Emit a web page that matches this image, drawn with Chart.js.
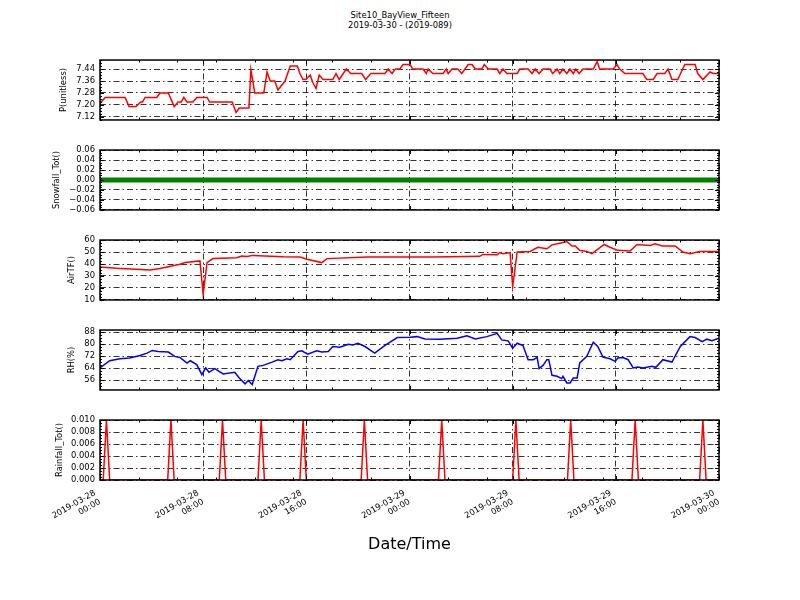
<!DOCTYPE html>
<html>
<head>
<meta charset="utf-8">
<script src="https://cdn.jsdelivr.net/npm/chart.js@4"></script>
<style>
body { margin: 0; background: #fff; }
#wrap { position: relative; width: 800px; height: 600px; font-family: 'DejaVu Sans', sans-serif; }
.title { position: absolute; left: 0; width: 800px; text-align: center; font-size: 8.4px; line-height: 10px; color: #000; }
canvas { position: absolute; left: 0; }
</style>
</head>
<body>
<div id="wrap">
  <div class="title" style="top:10px">Site10_BayView_Fifteen</div>
  <div class="title" style="top:20px">2019-03-30 - (2019-089)</div>
  <canvas id="cP" width="800" height="80" style="top:50px"></canvas>
  <canvas id="cS" width="800" height="80" style="top:140px"></canvas>
  <canvas id="cT" width="800" height="80" style="top:230px"></canvas>
  <canvas id="cH" width="800" height="80" style="top:320px"></canvas>
  <canvas id="cR" width="800" height="190" style="top:410px"></canvas>
</div>
<script>
// hours since 2019-03-28 00:00
const xTicks = [0, 8, 16, 24, 32, 40, 48];

const pTimes = [0, 0.4, 1.95, 2.25, 2.8, 3.15, 3.3, 3.5, 4.4, 4.65, 5.3, 5.75, 6.05, 6.3, 6.5, 6.75, 7.2, 7.5, 8.3, 8.5,
  10.25, 10.55, 10.8, 11.55, 11.7, 12.0, 12.7, 12.95, 13.2, 13.55, 13.8, 14.35, 14.75, 15.3, 15.5, 15.75, 15.95, 16.3, 16.5, 16.75,
  17.0, 17.3, 18.05, 18.3, 18.55, 19.1, 19.45, 20.3, 20.6, 21.0, 22.1, 22.35, 22.65, 22.9, 23.25, 23.5, 24.05, 24.25, 25.05, 25.3,
  25.45, 25.8, 26.6, 26.85, 27.0, 27.3, 27.75, 28.05, 28.55, 28.85, 29.1, 29.6, 29.8, 30.1, 30.8, 31.0, 31.25, 31.55, 32.35, 32.55,
  33.2, 33.5, 33.75, 34.05, 34.35, 34.9, 35.1, 35.45, 35.65, 35.9, 36.2, 36.45, 36.7, 36.9, 37.15, 37.45, 38.25, 38.55, 38.75, 39.8,
  40.1, 40.3, 40.7, 42.1, 42.4, 42.9, 43.2, 43.8, 44.05, 44.35, 44.8, 45.35, 46.15, 46.35, 46.75, 47.3, 47.55, 48.0];
const pVals = [7.21, 7.25, 7.25, 7.19, 7.19, 7.22, 7.22, 7.25, 7.25, 7.28, 7.28, 7.19, 7.22, 7.22, 7.25, 7.22, 7.22, 7.25, 7.25, 7.22,
  7.22, 7.15, 7.18, 7.18, 7.435, 7.28, 7.28, 7.42, 7.36, 7.36, 7.30, 7.36, 7.46, 7.46, 7.41, 7.37, 7.37, 7.40, 7.35, 7.31,
  7.40, 7.37, 7.37, 7.41, 7.37, 7.44, 7.41, 7.41, 7.37, 7.41, 7.41, 7.44, 7.41, 7.44, 7.44, 7.47, 7.47, 7.44, 7.44, 7.41,
  7.44, 7.41, 7.41, 7.44, 7.41, 7.44, 7.44, 7.41, 7.47, 7.47, 7.44, 7.44, 7.47, 7.44, 7.44, 7.41, 7.44, 7.41, 7.41, 7.44,
  7.44, 7.41, 7.44, 7.41, 7.44, 7.44, 7.41, 7.44, 7.41, 7.44, 7.41, 7.44, 7.41, 7.44, 7.41, 7.44, 7.44, 7.49, 7.44, 7.44,
  7.47, 7.44, 7.41, 7.41, 7.37, 7.37, 7.41, 7.41, 7.44, 7.37, 7.37, 7.47, 7.47, 7.41, 7.37, 7.42, 7.41, 7.41];

const sTimes = [0, 12, 24, 36, 48];
const sVals = [0, 0, 0, 0, 0];

const tTimes = [0, 1.3, 3.9, 4.65, 6.2, 6.6, 7.75, 8.0, 8.3, 8.75, 10.6, 11.0, 11.4, 11.85, 14.2, 15.5, 16.05, 17.2, 17.6, 20.7,
  25.8, 29.45, 29.7, 30.8, 31.0, 31.25, 31.8, 32.0, 32.35, 33.35, 33.95, 34.65, 35.05, 35.65, 36.2, 36.6, 36.85, 37.2, 37.75, 38.15,
  39.1, 39.55, 40.15, 41.1, 41.65, 42.65, 43.05, 43.6, 44.6, 45.2, 45.75, 46.5, 48.0];
const tVals = [37.6, 36.5, 35.1, 36.2, 39.8, 41.2, 42.6, 15.0, 41.2, 44.5, 45.3, 46.7, 46.2, 47.2, 46.0, 45.9, 44.0, 41.2, 44.5, 45.9,
  45.9, 46.4, 48.0, 47.8, 49.5, 48.6, 49.5, 21.2, 50.0, 50.5, 54.0, 52.7, 56.0, 57.4, 58.8, 55.0, 55.0, 51.4, 50.5, 48.6,
  56.3, 54.0, 51.4, 50.8, 56.3, 55.5, 56.8, 55.0, 55.0, 50.0, 48.6, 50.5, 50.5];

const hTimes = [0, 0.75, 1.55, 2.3, 3.1, 3.65, 4.05, 4.5, 5.3, 5.8, 6.2, 6.75, 7.0, 7.5, 7.9, 8.2, 8.45, 8.9, 9.55, 10.45,
  10.8, 11.25, 11.5, 11.8, 12.25, 12.65, 13.35, 13.8, 14.1, 14.5, 14.75, 15.35, 15.65, 16.1, 16.8, 17.2, 17.7, 18.05, 18.6, 19.25,
  19.6, 20.0, 20.55, 21.3, 22.1, 23.05, 24.05, 24.6, 25.2, 26.35, 27.7, 28.45, 29.1, 30.0, 30.8, 31.15, 31.65, 32.0, 32.35, 32.8,
  33.2, 33.6, 33.9, 34.05, 34.35, 34.65, 34.8, 35.05, 35.45, 35.8, 35.9, 36.2, 36.45, 36.7, 37.0, 37.2, 37.75, 38.25, 38.6, 39.0,
  39.55, 39.95, 40.15, 40.55, 40.95, 41.35, 41.7, 42.1, 42.8, 43.1, 43.65, 44.35, 45.0, 45.75, 46.15, 46.7, 47.05, 47.45, 48.0];
const hVals = [64.2, 69.0, 70.3, 70.8, 72.5, 74.1, 75.9, 75.2, 74.8, 71.9, 71.2, 67.5, 69.0, 66.4, 59.7, 64.2, 61.3, 63.7, 60.2, 61.3,
  57.5, 53.6, 55.8, 53.1, 65.3, 65.9, 68.1, 69.7, 69.0, 70.3, 69.7, 75.2, 75.6, 73.4, 75.6, 74.8, 75.2, 78.5, 78.0, 80.0,
  79.6, 80.7, 78.5, 74.1, 79.2, 84.5, 84.7, 85.1, 83.6, 83.4, 84.0, 85.6, 83.6, 85.1, 87.3, 82.9, 82.3, 77.4, 80.7, 79.2,
  69.7, 69.7, 71.2, 63.7, 65.9, 69.7, 69.7, 59.3, 58.6, 57.1, 58.6, 54.2, 54.2, 57.5, 57.5, 67.5, 71.9, 81.4, 78.5, 71.4,
  70.3, 68.6, 70.8, 71.2, 69.7, 64.2, 64.8, 64.2, 65.3, 64.6, 69.7, 68.1, 78.5, 85.1, 84.5, 81.8, 83.4, 82.3, 84.0];

const rTimes = [0, 0.25, 0.5, 0.75, 5.25, 5.5, 5.75, 9.25, 9.5, 9.75, 12.25, 12.5, 12.75, 15.5, 15.75, 16.0, 20.25, 20.5, 20.75,
  26.25, 26.5, 26.75, 32.0, 32.25, 32.5, 36.25, 36.5, 36.75, 41.25, 41.5, 41.75, 46.5, 46.75, 47.0, 48.0];
const rVals = [0, 0, 0.01, 0, 0, 0.01, 0, 0, 0.01, 0, 0, 0.01, 0, 0, 0.01, 0, 0, 0.01, 0,
  0, 0.01, 0, 0, 0.01, 0, 0, 0.01, 0, 0, 0.01, 0, 0, 0.01, 0, 0];

const pTicks = [7.12, 7.20, 7.28, 7.36, 7.44];
const sTicks = [-0.06, -0.04, -0.02, 0, 0.02, 0.04, 0.06];
const tTicks = [10, 20, 30, 40, 50, 60];
const hTicks = [56, 64, 72, 80, 88];
const rTicks = [0, 0.002, 0.004, 0.006, 0.008, 0.010];

Chart.defaults.font.family = "'DejaVu Sans', sans-serif";
Chart.defaults.font.size = 8.4;
Chart.defaults.color = '#000';

const gridDash = [6, 3, 1.5, 3];
const BASE = Date.UTC(2019, 2, 28);

function fmtTick(h) {
  const d = new Date(BASE + h * 3600000);
  const p = n => String(n).padStart(2, '0');
  return [d.getUTCFullYear() + '-' + p(d.getUTCMonth() + 1) + '-' + p(d.getUTCDate()),
          p(d.getUTCHours()) + ':' + p(d.getUTCMinutes())];
}

function minus(s) { return s.replace('-', '\u2212'); }

// frame and inward tick marks like the matplotlib axes
const frameTicks = {
  id: 'frameTicks',
  afterDraw(chart, args, opts) {
    const { ctx, chartArea: a, scales } = chart;
    const y = scales.y, x = scales.x;
    ctx.save();
    ctx.strokeStyle = '#000';
    ctx.lineWidth = 1;
    const maj = opts.yTicks;
    const step = (maj[1] - maj[0]) / 4;
    const k0 = Math.floor((maj[0] - y.min) / step + 1e-6);
    for (let k = -k0; ; k++) {
      const v = maj[0] + k * step;
      if (v > y.max + 1e-9) break;
      const py = Math.round(y.getPixelForValue(v)) + 0.5;
      const len = (k % 4 === 0) ? 4 : 2;
      ctx.beginPath();
      ctx.moveTo(a.left, py); ctx.lineTo(a.left + len, py);
      ctx.moveTo(a.right, py); ctx.lineTo(a.right - len, py);
      ctx.stroke();
    }
    for (let h = 0; h <= 48; h++) {
      if (h % 3 !== 0 && h % 8 !== 0) continue;
      const px = Math.round(x.getPixelForValue(h)) + 0.5;
      const len = (h % 8 === 0) ? 4 : 2.5;
      ctx.beginPath();
      ctx.moveTo(px, a.top); ctx.lineTo(px, a.top + len);
      ctx.moveTo(px, a.bottom); ctx.lineTo(px, a.bottom - len);
      ctx.stroke();
    }
    ctx.lineWidth = 1.5;
    ctx.strokeRect(a.left, a.top, a.right - a.left, a.bottom - a.top);
    ctx.restore();
  }
};

function panel(id, o) {
  const last = !!o.last;
  new Chart(document.getElementById(id), {
    type: 'line',
    data: {
      datasets: [{
        data: o.times.map((t, i) => ({ x: t, y: o.vals[i] })),
        borderColor: o.color,
        borderWidth: o.width || 1.5,
        pointRadius: 0,
        tension: 0,
        fill: false
      }]
    },
    options: {
      responsive: false,
      animation: false,
      events: [],
      layout: { padding: { left: o.padLeft, right: 81, top: 10, bottom: last ? 0 : 10 } },
      plugins: {
        legend: { display: false },
        tooltip: { enabled: false },
        frameTicks: { yTicks: o.yTicks }
      },
      scales: {
        x: {
          type: 'linear', min: 0, max: 48,
          afterBuildTicks: s => { s.ticks = xTicks.map(v => ({ value: v })); },
          afterFit: s => { s.height = last ? 120 : 0; },
          grid: { color: '#000', lineWidth: 0.8, drawTicks: false },
          border: { display: false, dash: gridDash },
          ticks: {
            display: last, autoSkip: false, maxRotation: 30, minRotation: 30,
            padding: 8, labelOffset: -5, callback: v => fmtTick(v)
          },
          title: { display: last, text: 'Date/Time', font: { size: 16 }, padding: { top: 0, bottom: 45.4 } }
        },
        y: {
          min: o.min, max: o.max,
          afterBuildTicks: s => { s.ticks = o.yTicks.map(v => ({ value: v })); },
          afterFit: s => { s.width = 100 - o.padLeft; },
          grid: { color: '#000', lineWidth: 0.8, drawTicks: false },
          border: { display: false, dash: gridDash },
          ticks: { autoSkip: false, padding: 5, callback: v => o.fmt(v) },
          title: { display: true, text: o.label, padding: { top: 0, bottom: 0 } }
        }
      }
    },
    plugins: [frameTicks]
  });
}

panel('cP', { times: pTimes, vals: pVals, color: '#ff0000', label: 'P(unitless)', padLeft: 59,
  min: 7.10, max: 7.50, yTicks: pTicks, fmt: v => v.toFixed(2) });
panel('cS', { times: sTimes, vals: sVals, color: 'rgb(0,128,0)', width: 5, label: 'Snowfall_Tot()', padLeft: 51.7,
  min: -0.06, max: 0.06, yTicks: sTicks, fmt: v => minus(v.toFixed(2)) });
panel('cT', { times: tTimes, vals: tVals, color: '#ff0000', label: 'AirTF()', padLeft: 66.7,
  min: 10, max: 60, yTicks: tTicks, fmt: v => String(v) });
panel('cH', { times: hTimes, vals: hVals, color: '#0000ff', label: 'RH(%)', padLeft: 66.7,
  min: 49.5, max: 89.5, yTicks: hTicks, fmt: v => String(v) });
panel('cR', { times: rTimes, vals: rVals, color: '#ff0000', label: 'Rainfall_Tot()', padLeft: 54.3,
  min: 0, max: 0.010, yTicks: rTicks, fmt: v => v.toFixed(3), last: true });
</script>
</body>
</html>
